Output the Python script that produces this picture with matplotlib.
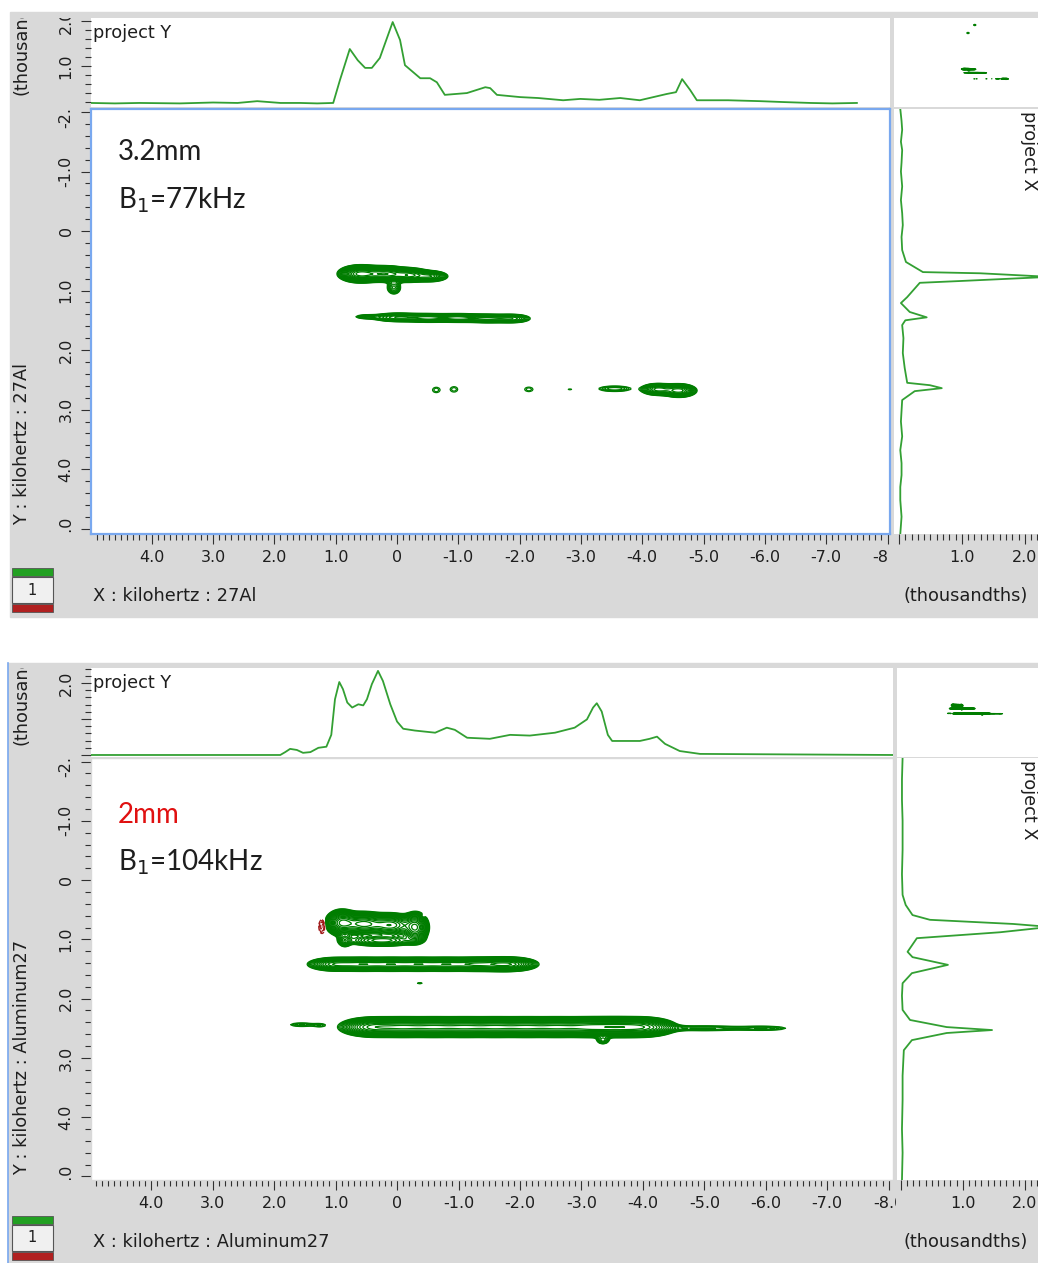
import numpy as np
import matplotlib
matplotlib.use("Agg")
import matplotlib.pyplot as plt
from matplotlib.patches import Rectangle
from matplotlib.ticker import MultipleLocator
from matplotlib.transforms import Bbox, TransformedBbox, blended_transform_factory

# ---- panel 1: 3.2 mm rotor, B1 = 77 kHz ----
# 2D peaks (F2 centre, F1 centre, F2 width, F1 width, amplitude), kHz
p1_cx = [0.60, 0.20, -0.20, -0.55, 0.05, 0.50, 0.00, -0.50, -1.00, -1.50, -1.90,
         -0.64, -0.93, -2.15, -2.82, -3.55, -4.25, -4.60, -0.70, 0.15]
p1_cy = [0.72, 0.72, 0.74, 0.76, 0.95, 1.44, 1.45, 1.46, 1.46, 1.47, 1.47,
         2.67, 2.66, 2.66, 2.66, 2.65, 2.66, 2.68, -8.10, -6.50]
p1_sx = [0.16, 0.18, 0.16, 0.14, 0.07, 0.14, 0.22, 0.22, 0.22, 0.22, 0.16,
         0.08, 0.08, 0.09, 0.05, 0.20, 0.14, 0.14, 0.08, 0.08]
p1_sy = [0.065, 0.06, 0.055, 0.045, 0.07, 0.025, 0.04, 0.04, 0.04, 0.04, 0.04,
         0.06, 0.06, 0.05, 0.02, 0.035, 0.05, 0.055, 0.08, 0.08]
p1_amp = [1.0, 0.9, 0.7, 0.45, 0.2, 0.12, 0.3, 0.3, 0.3, 0.3, 0.25,
          0.08, 0.08, 0.08, 0.07, 0.14, 0.45, 0.55, 0.2, 0.2]

# F2 projection (project Y)
p1_top_khz = [4.99, 4.60, 4.20, 3.54, 3.00, 2.60, 2.28, 1.90, 1.58, 1.30, 1.04, 0.93,
              0.77, 0.64, 0.52, 0.41, 0.28, 0.07, -0.05, -0.13, -0.38, -0.54, -0.65,
              -0.78, -1.14, -1.44, -1.52, -1.63, -2.01, -2.30, -2.71, -2.99, -3.30,
              -3.64, -3.96, -4.40, -4.55, -4.65, -4.78, -4.89, -5.40, -5.92, -6.30,
              -6.74, -7.10, -7.50]
p1_top_int = [0.18, 0.17, 0.18, 0.17, 0.19, 0.18, 0.22, 0.18, 0.18, 0.17, 0.18, 0.69,
              1.38, 1.13, 0.96, 0.96, 1.18, 1.98, 1.58, 1.02, 0.73, 0.73, 0.64,
              0.36, 0.40, 0.53, 0.51, 0.36, 0.31, 0.29, 0.24, 0.27, 0.25,
              0.29, 0.24, 0.38, 0.42, 0.71, 0.47, 0.24, 0.24, 0.22, 0.20,
              0.18, 0.17, 0.18]

# F1 projection (project X)
p1_side_khz = [-2.05, -1.85, -1.70, -1.50, -1.36, -1.15, -1.00, -0.75, -0.52, -0.30,
               -0.10, 0.10, 0.32, 0.52, 0.69, 0.71, 0.77, 0.84, 0.87, 1.11, 1.21,
               1.36, 1.45, 1.50, 1.58, 1.80, 2.05, 2.30, 2.55, 2.59, 2.64, 2.69,
               2.84, 3.20, 3.45, 3.68, 3.90, 4.10, 4.30, 4.52, 4.80, 5.09]
p1_side_int = [0.02, 0.04, 0.05, 0.03, 0.05, 0.04, 0.03, 0.05, 0.03, 0.05,
               0.06, 0.04, 0.05, 0.11, 0.38, 1.29, 2.40, 0.97, 0.33, 0.13, 0.03,
               0.17, 0.44, 0.10, 0.05, 0.07, 0.06, 0.09, 0.13, 0.49, 0.68, 0.25,
               0.05, 0.03, 0.05, 0.02, 0.04, 0.04, 0.02, 0.02, 0.04, 0.02]

# ---- panel 2: 2 mm rotor, B1 = 104 kHz ----
p2_cx = [0.90, 0.55, 0.10, -0.30, 0.25, 0.85,
         1.00, 0.55, 0.10, -0.35, -0.80, -1.25, -1.65, -1.90, -0.37,
         0.40, -0.10, -0.60, -1.10, -1.60, -2.10, -2.60, -3.10, -3.55, -4.00,
         -5.00, -6.00, -3.35, 1.55, 1.25,
         1.22, -0.42]
p2_cy = [0.72, 0.74, 0.76, 0.80, 1.02, 1.02,
         1.42, 1.42, 1.42, 1.42, 1.42, 1.42, 1.42, 1.42, 1.74,
         2.48, 2.48, 2.48, 2.48, 2.48, 2.48, 2.48, 2.48, 2.48, 2.48,
         2.50, 2.50, 2.70, 2.44, 2.45,
         0.78, 0.61]
p2_sx = [0.12, 0.18, 0.18, 0.10, 0.30, 0.06,
         0.22, 0.22, 0.22, 0.22, 0.22, 0.22, 0.22, 0.20, 0.05,
         0.25, 0.25, 0.25, 0.25, 0.25, 0.25, 0.25, 0.25, 0.25, 0.25,
         0.50, 0.30, 0.06, 0.18, 0.08,
         0.03, 0.02]
p2_sy = [0.10, 0.09, 0.09, 0.12, 0.05, 0.06,
         0.055, 0.055, 0.055, 0.055, 0.055, 0.055, 0.055, 0.055, 0.015,
         0.075, 0.075, 0.075, 0.075, 0.075, 0.075, 0.075, 0.075, 0.075, 0.075,
         0.035, 0.03, 0.04, 0.03, 0.025,
         0.07, 0.02]
p2_amp = [0.9, 1.0, 0.9, 0.8, 0.4, 0.25,
          0.55, 0.55, 0.55, 0.55, 0.55, 0.55, 0.55, 0.45, 0.08,
          0.8, 0.8, 0.8, 0.8, 0.8, 0.8, 0.8, 0.8, 0.8, 0.8,
          0.12, 0.10, 0.2, 0.10, 0.08,
          -0.3, -0.1]

p2_top_khz = [4.98, 1.90, 1.82, 1.74, 1.63, 1.53, 1.41, 1.28, 1.15, 1.07, 1.01, 0.94,
              0.88, 0.81, 0.73, 0.63, 0.55, 0.49, 0.41, 0.31, 0.23, 0.11, 0.00, -0.10,
              -0.29, -0.62, -0.81, -0.94, -1.14, -1.51, -1.84, -2.16, -2.57, -2.89,
              -3.09, -3.19, -3.25, -3.33, -3.43, -3.50, -3.95, -4.11, -4.23, -4.36,
              -4.60, -4.93, -8.07]
p2_top_int = [0.0, 0.0, 0.08, 0.17, 0.14, 0.06, 0.08, 0.20, 0.23, 0.56, 1.55, 2.03,
              1.83, 1.46, 1.32, 1.41, 1.38, 1.55, 1.97, 2.34, 2.06, 1.41, 0.93, 0.73,
              0.68, 0.62, 0.76, 0.70, 0.48, 0.45, 0.56, 0.54, 0.62, 0.76,
              0.99, 1.32, 1.44, 1.21, 0.56, 0.39, 0.39, 0.45, 0.51, 0.31,
              0.11, 0.03, 0.0]

p2_side_khz = [-2.06, -1.70, -1.35, -1.00, -0.51, -0.10, 0.25, 0.42, 0.59, 0.67, 0.74,
               0.79, 0.88, 0.98, 1.21, 1.30, 1.43, 1.57, 1.74, 1.95, 2.19, 2.36, 2.48,
               2.53, 2.58, 2.70, 2.87, 3.30, 3.71, 4.20, 4.60, 5.06]
p2_side_int = [0.03, 0.02, 0.02, 0.03, 0.03, 0.02, 0.03, 0.08, 0.19, 0.47, 1.81,
               2.40, 1.60, 0.26, 0.11, 0.19, 0.76, 0.18, 0.03, 0.02, 0.03, 0.15, 0.74,
               1.47, 0.74, 0.18, 0.05, 0.03, 0.03, 0.02, 0.03, 0.02]

f2_ticks = [4, 3, 2, 1, 0, -1, -2, -3, -4, -5, -6, -7, -8]
f2_labels = ["4.0", "3.0", "2.0", "1.0", "0", "-1.0", "-2.0", "-3.0", "-4.0",
             "-5.0", "-6.0", "-7.0", "-8.0"]
f1_ticks = [-2, -1, 0, 1, 2, 3, 4, 5]
f1_labels = ["-2.0", "-1.0", "0", "1.0", "2.0", "3.0", "4.0", "5.0"]

W, H = 1038, 1263
GRAY = "#d9d9d9"
TRACE = "#33a033"
CONTOUR = "#007d00"
NEG = "#a01818"
TXT = "#1e1e1e"
LAB = 12.8

fig = plt.figure(figsize=(W / 100, H / 100), dpi=100)
fig.patch.set_facecolor("white")


def fx(px):
    return px / W


def fy(py):
    return 1 - py / H


def box(x0, y0, x1, y1):
    return [fx(x0), fy(y1), (x1 - x0) / W, (y1 - y0) / H]


def clip_px(x0, y0, x1, y1):
    return TransformedBbox(Bbox([[fx(x0), fy(y1)], [fx(x1), fy(y0)]]), fig.transFigure)


def ftext(px, py, s, **kw):
    kw.setdefault("fontsize", LAB)
    kw.setdefault("color", TXT)
    return fig.text(fx(px), fy(py), s, **kw)


def field(cx, cy, sx, sy, amp):
    gx = np.arange(-12.0, 10.0, 0.02)
    gy = np.arange(-10.5, 12.0, 0.02)
    X, Y = np.meshgrid(gx, gy)
    Z = np.zeros_like(X)
    for a, b, c, d, e in zip(cx, cy, sx, sy, amp):
        Z += e * np.exp(-0.5 * (((X - a) / c) ** 2 + ((Y - b) / d) ** 2))
    return gx, gy, Z


pos_levels = np.geomspace(0.06, 1.3, 20)
neg_levels = -np.geomspace(0.06, 0.5, 6)[::-1]


def plain(ax):
    ax.set_facecolor("white")
    for s in ax.spines.values():
        s.set_visible(False)
    ax.tick_params(which="both", bottom=False, left=False, labelbottom=False, labelleft=False)


def panel(frame, main_box, top_box, mini_box, side_box, cx, cy, sx, sy, amp,
          xlim, ylim, top_ylim, side_xlim, mini_lim, top_trace, side_trace,
          top_labels, xclip, edge, sample, b1, sample_color, note_y,
          xlabel, ylabel, ylab_bottom, icon_y, thous_y):
    x0, y0, x1, y1 = frame
    fig.add_artist(Rectangle((fx(x0), fy(y1)), (x1 - x0) / W, (y1 - y0) / H,
                             transform=fig.transFigure, color=GRAY, zorder=-5))

    gx, gy, Z = field(cx, cy, sx, sy, amp)

    # main 2D contour
    ax = fig.add_axes(box(*main_box))
    ax.set_facecolor("white")
    ax.contour(gx, gy, Z, levels=pos_levels, colors=CONTOUR, linewidths=0.9)
    if Z.min() < neg_levels[-1]:
        ax.contour(gx, gy, Z, levels=neg_levels, colors=NEG, linewidths=0.9)
    ax.set_xlim(*xlim)
    ax.set_ylim(*ylim)
    for s in ax.spines.values():
        s.set_color(edge)
        s.set_linewidth(1.6 if edge != GRAY else 1.0)
    ax.xaxis.set_major_locator(MultipleLocator(1.0))
    ax.xaxis.set_minor_locator(MultipleLocator(0.1))
    ax.yaxis.set_major_locator(MultipleLocator(1.0))
    ax.yaxis.set_minor_locator(MultipleLocator(0.2))
    ax.tick_params(which="both", direction="out", color="#303030", width=0.8,
                   labelbottom=False, labelleft=False)
    ax.tick_params(which="major", length=7)
    ax.tick_params(which="minor", length=4)

    mx0, my0, mx1, my1 = main_box
    trx = blended_transform_factory(ax.transData, fig.transFigure)
    cb = clip_px(0, 0, xclip, H)
    for v, s in zip(f2_ticks, f2_labels):
        t = fig.text(v, fy(my1 + 24), s, transform=trx, ha="center", va="center",
                     fontsize=11.5, color=TXT)
        t.set_clip_box(cb)
        t.set_clip_on(True)
    try_ = blended_transform_factory(fig.transFigure, ax.transData)
    cb = clip_px(0, my0, W, my1)
    for v, s in zip(f1_ticks, f1_labels):
        t = fig.text(fx(66), v, s, transform=try_, rotation=90, ha="center", va="center",
                     fontsize=11.5, color=TXT)
        t.set_clip_box(cb)
        t.set_clip_on(True)

    ftext(118, note_y[0], sample, fontsize=20, family="Lato", color=sample_color, va="center")
    ftext(118, note_y[1], b1, fontsize=20, family="Lato", va="center")

    # F2 projection
    at = fig.add_axes(box(*top_box))
    plain(at)
    at.plot(top_trace[0], top_trace[1], color=TRACE, lw=1.3)
    at.set_xlim(*xlim)
    at.set_ylim(*top_ylim)
    at.yaxis.set_major_locator(MultipleLocator(1.0))
    at.yaxis.set_minor_locator(MultipleLocator(0.2))
    at.tick_params(axis="y", which="both", left=True, direction="out", color="#303030", width=0.8)
    at.tick_params(axis="y", which="major", length=7)
    at.tick_params(axis="y", which="minor", length=4)
    at.text(0.003, 0.78, "project Y", transform=at.transAxes, fontsize=LAB, color=TXT)
    tx0, ty0, tx1, ty1 = top_box
    try_ = blended_transform_factory(fig.transFigure, at.transData)
    cb = clip_px(0, ty0, W, ty1)
    for v, s in top_labels:
        t = fig.text(fx(66), v, s, transform=try_, rotation=90, ha="center", va="center",
                     fontsize=11.5, color=TXT)
        t.set_clip_box(cb)
        t.set_clip_on(True)
    t = ftext(22, thous_y, "(thousandths)", rotation=90, rotation_mode="anchor",
              ha="left", va="center")
    t.set_clip_box(clip_px(0, ty0, W, H))
    t.set_clip_on(True)

    # overview of the full spectrum
    am = fig.add_axes(box(*mini_box))
    plain(am)
    am.contour(gx, gy, Z, levels=pos_levels[::2], colors=CONTOUR, linewidths=0.8)
    am.set_xlim(mini_lim[0], mini_lim[1])
    am.set_ylim(mini_lim[2], mini_lim[3])

    # F1 projection
    asd = fig.add_axes(box(*side_box))
    plain(asd)
    asd.plot(side_trace[1], side_trace[0], color=TRACE, lw=1.3)
    asd.set_xlim(*side_xlim)
    asd.set_ylim(*ylim)
    asd.xaxis.set_major_locator(MultipleLocator(1.0))
    asd.xaxis.set_minor_locator(MultipleLocator(0.1))
    asd.tick_params(axis="x", which="both", bottom=True, direction="out", color="#303030", width=0.8)
    asd.tick_params(axis="x", which="major", length=7)
    asd.tick_params(axis="x", which="minor", length=4)
    sx0, sy0, sx1, sy1 = side_box
    asd.text(0.935, 0.995, "project X", transform=asd.transAxes, rotation=-90,
             ha="center", va="top", fontsize=LAB, color=TXT)
    trx = blended_transform_factory(asd.transData, fig.transFigure)
    for v in [1.0, 2.0]:
        fig.text(v, fy(sy1 + 24), f"{v:.1f}", transform=trx, ha="center", va="center",
                 fontsize=11.5, color=TXT)

    ftext(93, sy1 + 62, xlabel, va="center")
    ftext(1028, sy1 + 62, "(thousandths)", ha="right", va="center")
    ftext(22, ylab_bottom, ylabel, rotation=90, ha="center", va="bottom")

    # series swatch
    g0 = icon_y
    fig.add_artist(Rectangle((fx(12), fy(g0 + 8)), 41 / W, 8 / H, transform=fig.transFigure,
                             facecolor="#22a022", edgecolor="#555555", lw=0.6))
    fig.add_artist(Rectangle((fx(12), fy(g0 + 35)), 41 / W, 26 / H, transform=fig.transFigure,
                             facecolor="#f0f0f0", edgecolor="#555555", lw=0.8))
    fig.add_artist(Rectangle((fx(12), fy(g0 + 44)), 41 / W, 8 / H, transform=fig.transFigure,
                             facecolor="#b02020", edgecolor="#555555", lw=0.6))
    ftext(32, g0 + 22, "1", ha="center", va="center", fontsize=10.5)


panel((10, 12, W, 617), (91, 109, 890, 534), (91, 18, 890, 107), (894, 18, W, 107),
      (894, 109, W, 534), p1_cx, p1_cy, p1_sx, p1_sy, p1_amp,
      (4.99, -8.04), (5.09, -2.05), (0.09, 2.07), (-0.08, 2.21), (9.4, -8.6, 8.3, -9.5),
      (p1_top_khz, p1_top_int), (p1_side_khz, p1_side_int),
      [(2.0, "2.0"), (1.0, "1.0")], 888, "#79a8ef",
      "3.2mm", "B$_1$=77kHz", TXT, (152, 200),
      "X : kilohertz : 27Al", "Y : kilohertz : 27Al", 525, 568, 95)

panel((8, 663, W, H), (91, 758, 893, 1180), (91, 668, 893, 757), (897, 668, W, 757),
      (897, 758, W, 1180), p2_cx, p2_cy, p2_sx, p2_sy, p2_amp,
      (4.98, -8.07), (5.06, -2.06), (-0.056, 2.42), (-0.06, 2.21), (9.1, -11.5, 11.6, -7.1),
      (p2_top_khz, p2_top_int), (p2_side_khz, p2_side_int),
      [(2.0, "2.0")], 896, GRAY,
      "2mm", "B$_1$=104kHz", "#e01010", (815, 862),
      "X : kilohertz : Aluminum27", "Y : kilohertz : Aluminum27", 1175, 1216, 745)

# window edge of the lower panel
fig.add_artist(plt.Line2D([fx(8), fx(8)], [fy(663), fy(H)], transform=fig.transFigure,
                          color="#79a8ef", lw=1.2))

fig.savefig("out.png", dpi=100, facecolor="white")
